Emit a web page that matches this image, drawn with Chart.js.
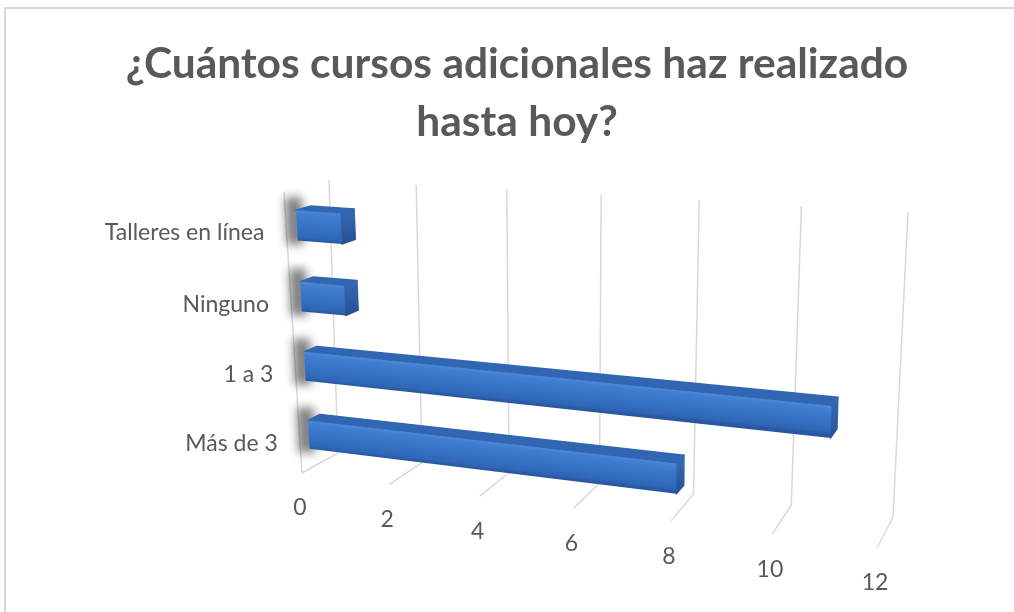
<!DOCTYPE html>
<html>
<head>
<meta charset="utf-8">
<title>Cursos adicionales</title>
<script src="https://cdn.jsdelivr.net/npm/chart.js@4.4.1/dist/chart.umd.min.js"></script>
<style>
    html, body { margin: 0; padding: 0; background: #fff; }
    #frame {
        position: absolute; left: 4px; top: 7px; width: 1030px; height: 630px;
        border-top: 2px solid #d9d9d9; border-left: 2px solid #d9d9d9;
    }
    #chart { position: absolute; left: 0; top: 0; }
</style>
</head>
<body>
<div id="frame"></div>
<canvas id="chart" width="1014" height="612"></canvas>
<script>
const categories = ['Talleres en línea', 'Ninguno', '1 a 3', 'Más de 3'];
const cursos = [1, 1, 11, 8];
const valueTicks = [0, 2, 4, 6, 8, 10, 12];

// walls of the 3D box: corners in order (0,top) (max,top) (max,bottom) (0,bottom)
const frontWall = [[284, 192], [886, 236], [877, 548], [302, 473]];
const backWall = [[329, 180], [908, 212], [893, 517], [338, 453]];
const barDepth = [0.24, 0.56];

const textColor = '#595959';
const gridColor = '#d9d9d9';

// unit square -> quad (projective)
function quadMap(q) {
    const [[x0, y0], [x1, y1], [x2, y2], [x3, y3]] = q;
    const dx1 = x1 - x2, dx2 = x3 - x2, dx3 = x0 - x1 + x2 - x3;
    const dy1 = y1 - y2, dy2 = y3 - y2, dy3 = y0 - y1 + y2 - y3;
    const det = dx1 * dy2 - dx2 * dy1;
    const g = (dx3 * dy2 - dx2 * dy3) / det;
    const h = (dx1 * dy3 - dx3 * dy1) / det;
    const a = x1 - x0 + g * x1, b = x3 - x0 + h * x3;
    const d = y1 - y0 + g * y1, e = y3 - y0 + h * y3;
    return (u, t) => {
        const w = g * u + h * t + 1;
        return [(a * u + b * t + x0) / w, (d * u + e * t + y0) / w];
    };
}

const front = quadMap(frontWall);
const back = quadMap(backWall);

function project(u, t, depth) {
    const f = front(u, t), b = back(u, t);
    return [f[0] + (b[0] - f[0]) * depth, f[1] + (b[1] - f[1]) * depth];
}

function poly(ctx, pts) {
    ctx.beginPath();
    pts.forEach((p, i) => i ? ctx.lineTo(p[0], p[1]) : ctx.moveTo(p[0], p[1]));
    ctx.closePath();
}

function line(ctx, a, b) {
    ctx.beginPath();
    ctx.moveTo(a[0], a[1]);
    ctx.lineTo(b[0], b[1]);
    ctx.stroke();
}

// gradient running across a face, with stripes parallel to the edge a->b
function faceGradient(ctx, a, b, c, stops) {
    const dx = b[0] - a[0], dy = b[1] - a[1];
    const len = Math.hypot(dx, dy);
    const nx = -dy / len, ny = dx / len;
    const k = (c[0] - a[0]) * nx + (c[1] - a[1]) * ny;
    const grad = ctx.createLinearGradient(a[0], a[1], a[0] + nx * k, a[1] + ny * k);
    stops.forEach(([pos, col]) => grad.addColorStop(pos, col));
    return grad;
}

const perspectiveBars = {
    id: 'perspectiveBars',
    afterDatasetsDraw(chart) {
        const { ctx, chartArea: area, scales: { x } } = chart;
        const toU = px => (px - area.left) / (area.right - area.left);
        const toT = py => (py - area.top) / (area.bottom - area.top);
        const [d0, d1] = barDepth;

        ctx.save();

        // side wall edge, back wall and floor gridlines
        ctx.strokeStyle = gridColor;
        ctx.lineWidth = 1.5;
        line(ctx, project(0, 0, 0), project(0, 1, 0));
        x.ticks.forEach(tick => {
            const u = toU(x.getPixelForValue(tick.value));
            line(ctx, project(u, 0, 1), project(u, 1, 1));
            line(ctx, project(u, 1, 1), project(u, 1, 0));
        });

        const bars = chart.getDatasetMeta(0).data.map(el => ({
            u0: toU(el.base),
            u1: toU(el.x),
            t0: toT(el.y - el.height / 2),
            t1: toT(el.y + el.height / 2)
        }));

        // soft shadows on the side wall
        ctx.save();
        ctx.filter = 'blur(5px)';
        ctx.fillStyle = 'rgba(0,0,0,0.5)';
        bars.forEach(b => {
            const p = project(b.u0, b.t0, d0), q = project(b.u0, b.t1, d0);
            poly(ctx, [[p[0] - 11, p[1] - 13], [p[0] + 6, p[1] - 13], [q[0] + 6, q[1] + 4], [q[0] - 11, q[1] + 4]]);
            ctx.fill();
        });
        ctx.restore();

        ctx.lineJoin = 'round';
        ctx.lineWidth = 1.5;
        bars.forEach(b => {
            const fTL = project(b.u0, b.t0, d0), fTR = project(b.u1, b.t0, d0);
            const fBR = project(b.u1, b.t1, d0), fBL = project(b.u0, b.t1, d0);
            const bTL = project(b.u0, b.t0, d1), bTR = project(b.u1, b.t0, d1);
            const bBR = project(b.u1, b.t1, d1);

            // end cap
            const capGrad = ctx.createLinearGradient(fTR[0], fTR[1], fBR[0], fBR[1]);
            capGrad.addColorStop(0, '#3567b1');
            capGrad.addColorStop(1, '#284f91');
            poly(ctx, [fTR, bTR, bBR, fBR]);
            ctx.fillStyle = capGrad;
            ctx.strokeStyle = capGrad;
            ctx.fill();
            ctx.stroke();

            // top face
            poly(ctx, [fTL, fTR, bTR, bTL]);
            ctx.fillStyle = '#3166b2';
            ctx.strokeStyle = '#3166b2';
            ctx.fill();
            ctx.stroke();

            // front face
            poly(ctx, [fTL, fTR, fBR, fBL]);
            ctx.fillStyle = faceGradient(ctx, fTL, fTR, fBL, [
                [0, '#4c89d8'], [0.12, '#407ecf'], [0.5, '#3673c6'], [0.88, '#2f67b7'], [1, '#2a58a0']
            ]);
            ctx.fill();
        });

        // category labels along the side wall
        ctx.fillStyle = textColor;
        ctx.font = '23px Lato';
        ctx.textAlign = 'right';
        ctx.textBaseline = 'middle';
        chart.data.labels.forEach((label, i) => {
            const el = chart.getDatasetMeta(0).data[i];
            const p = project(0, toT(el.y), 0);
            ctx.fillText(label, p[0] - 22, p[1] + 4);
        });

        // value labels in front of the floor
        ctx.textAlign = 'center';
        x.ticks.forEach(tick => {
            const p = project(toU(x.getPixelForValue(tick.value)), 1, 0);
            ctx.fillText(tick.label, p[0] - 2, p[1] + 35);
        });

        ctx.restore();
    }
};

new Chart(document.getElementById('chart'), {
    type: 'bar',
    data: {
        labels: categories,
        datasets: [{
            data: cursos,
            backgroundColor: 'rgba(0,0,0,0)',
            borderWidth: 0,
            categoryPercentage: 0.84,
            barPercentage: 0.5
        }]
    },
    options: {
        indexAxis: 'y',
        responsive: false,
        animation: false,
        events: [],
        layout: { padding: { left: 20, right: 0, top: 0, bottom: 0 } },
        scales: {
            x: {
                min: valueTicks[0],
                max: valueTicks[valueTicks.length - 1],
                ticks: { stepSize: valueTicks[1] - valueTicks[0], display: false },
                grid: { display: false },
                border: { display: false }
            },
            y: {
                ticks: { display: false },
                grid: { display: false },
                border: { display: false }
            }
        },
        plugins: {
            legend: { display: false },
            tooltip: { enabled: false },
            title: {
                display: true,
                text: ['¿Cuántos cursos adicionales haz realizado', 'hasta hoy?'],
                color: textColor,
                font: { family: 'Lato', size: 42.5, weight: 'bold', lineHeight: 1.365 },
                padding: { top: 35, bottom: 0 }
            }
        }
    },
    plugins: [perspectiveBars]
});
</script>
</body>
</html>
